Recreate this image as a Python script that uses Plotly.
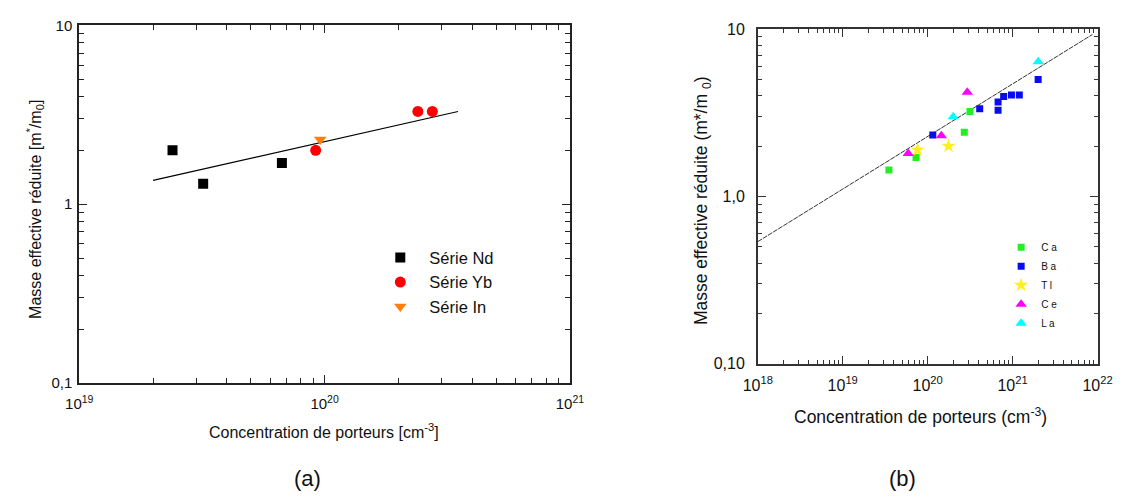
import plotly.graph_objects as go

# ---------------- data (a) ----------------
nd_x = [2.4e19, 3.2e19, 6.7e19]
nd_y = [2.0, 1.3, 1.7]
yb_x = [9.2e19, 2.4e20, 2.75e20]
yb_y = [2.0, 3.3, 3.3]
in_x = [9.6e19]
in_y = [2.3]
fit_a_x = [2.0e19, 3.5e20]
fit_a_y = [1.36, 3.3]

# ---------------- data (b) ----------------
ca_x = [3.5e19, 7.3e19, 2.7e20, 3.15e20]
ca_y = [1.44, 1.71, 2.42, 3.22]
ba_x = [1.15e20, 4.1e20, 6.75e20, 6.75e20, 7.85e20, 9.7e20, 1.2e21, 2.0e21]
ba_y = [2.33, 3.35, 3.67, 3.28, 3.96, 4.05, 4.05, 5.0]
tl_x = [7.6e19, 1.76e20]
tl_y = [1.9, 2.0]
ce_x = [5.9e19, 1.45e20, 2.93e20]
ce_y = [1.81, 2.31, 4.2]
la_x = [2.0e20, 2.0e21]
la_y = [3.0, 6.4]
fit_b_x = [1.0e18, 8.7e21]
fit_b_y = [0.537, 9.3]

# tick labels
xa_ticks = [1e19, 1e20, 1e21]
xa_text = ["10<sup>19</sup>", "10<sup>20</sup>", "10<sup>21</sup>"]
ya_ticks = [0.1, 1, 10]
ya_text = ["0,1", "1", "10"]
xb_ticks = [1e18, 1e19, 1e20, 1e21, 1e22]
xb_text = ["10<sup>18</sup>", "10<sup>19</sup>", "10<sup>20</sup>", "10<sup>21</sup>", "10<sup>22</sup>"]
yb_ticks = [0.1, 1, 10]
yb_text = ["0,10", "1,0", "10"]

W, H = 1132, 499
FONT = "Arial, Liberation Sans, sans-serif"


def minor_vals(lo, hi):
    return [float(m) * 10.0 ** e for e in range(lo, hi) for m in range(2, 10)]


fig = go.Figure()

# (a)
fig.add_trace(go.Scatter(x=fit_a_x, y=fit_a_y, mode="lines", line=dict(color="black", width=1.2),
                         showlegend=False, xaxis="x", yaxis="y", hoverinfo="skip"))
fig.add_trace(go.Scatter(x=nd_x, y=nd_y, mode="markers", name="Série Nd",
                         marker=dict(symbol="square", size=10, color="black"),
                         xaxis="x", yaxis="y", legend="legend", legendgroup="nd"))
fig.add_trace(go.Scatter(x=yb_x, y=yb_y, mode="markers", name="Série Yb",
                         marker=dict(symbol="circle", size=11, color="#ff0000"),
                         xaxis="x", yaxis="y", legend="legend", legendgroup="yb"))
fig.add_trace(go.Scatter(x=in_x, y=in_y, mode="markers", name="Série In",
                         marker=dict(symbol="triangle-down", size=11, color="#ff7f0e"),
                         xaxis="x", yaxis="y", legend="legend", legendgroup="in"))

# (b)
fig.add_trace(go.Scatter(x=fit_b_x, y=fit_b_y, mode="lines", line=dict(color="#333333", width=1, dash="5px,1px"),
                         showlegend=False, xaxis="x2", yaxis="y2", hoverinfo="skip"))
fig.add_trace(go.Scatter(x=ca_x, y=ca_y, mode="markers", name="C a",
                         marker=dict(symbol="square", size=7, color="#22ee22"),
                         xaxis="x2", yaxis="y2", legend="legend2", legendgroup="ca"))
fig.add_trace(go.Scatter(x=ba_x, y=ba_y, mode="markers", name="B a",
                         marker=dict(symbol="square", size=7, color="#0a0af0"),
                         xaxis="x2", yaxis="y2", legend="legend2", legendgroup="ba"))
fig.add_trace(go.Scatter(x=tl_x, y=tl_y, mode="markers", name="T l",
                         marker=dict(symbol="star", size=11, color="#ffee22"),
                         xaxis="x2", yaxis="y2", legend="legend2", legendgroup="tl"))
fig.add_trace(go.Scatter(x=ce_x, y=ce_y, mode="markers", name="C e",
                         marker=dict(symbol="triangle-up", size=10, color="#ff00ff"),
                         xaxis="x2", yaxis="y2", legend="legend2", legendgroup="ce"))
fig.add_trace(go.Scatter(x=la_x, y=la_y, mode="markers", name="L a",
                         marker=dict(symbol="triangle-up", size=10, color="#00ffff"),
                         xaxis="x2", yaxis="y2", legend="legend2", legendgroup="la"))


def px_x(p):
    return p / W


def px_y(p):
    return 1 - p / H


def axis(domain, rng, tv, tt, anchor, fs, lw, major_len, minor_len, col, standoff):
    return dict(type="log", range=rng, domain=domain, anchor=anchor,
                tickmode="array", tickvals=tv, ticktext=tt,
                ticks="inside", ticklen=major_len, tickwidth=1, tickcolor=col,
                showline=True, linecolor=col, linewidth=lw, mirror="ticks",
                showgrid=False, zeroline=False, ticklabelstandoff=standoff,
                tickfont=dict(family=FONT, size=fs, color="#111"),
                minor=dict(tickmode="array", tickvals=minor_vals(int(rng[0]), int(rng[1])),
                           ticks="inside", ticklen=minor_len, tickwidth=1, tickcolor=col,
                           showgrid=False))


fig.update_layout(
    width=W, height=H, margin=dict(l=0, r=0, t=0, b=0),
    paper_bgcolor="white", plot_bgcolor="white",
    font=dict(family=FONT, color="#111"),
    xaxis=axis([px_x(66), px_x(570)], [19, 21], xa_ticks, xa_text, "y", 15, 2, 8, 5, "#222", 6),
    yaxis=axis([px_y(388), px_y(17)], [-1, 1], ya_ticks, ya_text, "x", 15, 2, 8, 5, "#222", 2),
    xaxis2=axis([px_x(763), px_x(1112)], [18, 22], xb_ticks, xb_text, "y2", 16, 1.5, 8, 4, "#333", 6),
    yaxis2=axis([px_y(368), px_y(21)], [-1, 1], yb_ticks, yb_text, "x2", 16, 1.5, 8, 4, "#333", 8),
    legend=dict(x=px_x(366), y=px_y(240), xanchor="left", yanchor="top",
                font=dict(family=FONT, size=16.5, color="#111"), bgcolor="rgba(0,0,0,0)",
                tracegroupgap=0, itemwidth=48),
    legend2=dict(x=px_x(1013), y=px_y(232), xanchor="left", yanchor="top",
                 font=dict(family=FONT, size=10, color="#111"), bgcolor="rgba(0,0,0,0)",
                 tracegroupgap=0, itemwidth=30),
    showlegend=True,
)

ann = [
    dict(text="Masse effective réduite [m<sup>*</sup>/m<sub>0</sub>]", x=px_x(21), y=px_y(208),
         textangle=-90, font=dict(size=16)),
    dict(text="Concentration de porteurs [cm<sup>-3</sup>]", x=px_x(317), y=px_y(438), font=dict(size=16)),
    dict(text="(a)", x=px_x(300), y=px_y(487), font=dict(size=22)),
    dict(text="Masse effective réduite (m*/m <sub>0</sub>)", x=px_x(707), y=px_y(199),
         textangle=-90, font=dict(size=17.5)),
    dict(text="Concentration de porteurs (cm<sup>-3</sup>)", x=px_x(930), y=px_y(422), font=dict(size=17.5)),
    dict(text="(b)", x=px_x(912), y=px_y(487), font=dict(size=22)),
]
for a in ann:
    a.update(xref="paper", yref="paper", showarrow=False, xanchor="center", yanchor="middle")
    a["font"].update(family=FONT, color="#111")
fig.update_layout(annotations=ann)

fig.write_html("out.html", config={"displayModeBar": False},
               post_script="document.body.style.margin='0';")
